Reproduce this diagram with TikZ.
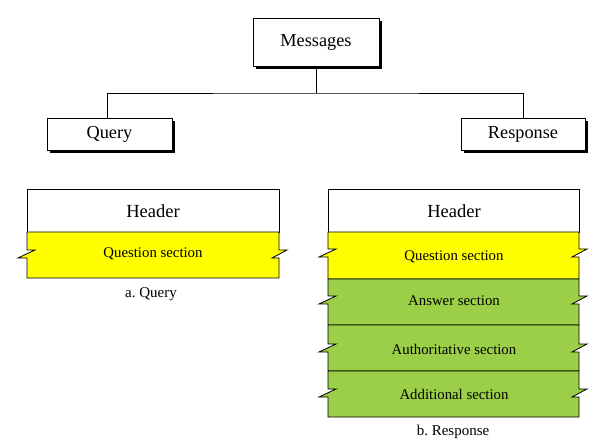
\documentclass[tikz,border=0pt]{standalone}
\usepackage{fontspec}
\setmainfont{Liberation Serif}
\usetikzlibrary{shadows}
\definecolor{secyellow}{RGB}{255,255,0}
\definecolor{secgreen}{RGB}{155,207,72}
\newcommand{\dnssec}[6]{%
  \filldraw[fill=#6,draw=black,line width=0.8pt,line join=miter]
    (#1,#3) -- (#2,#3) -- (#2,#5-4) -- (#2+8,#5-4) -- (#2-7,#5+4) -- (#2,#5+4)
    -- (#2,#4) -- (#1,#4) -- (#1,#5+4) -- (#1-9,#5+4) -- (#1+8,#5-4) -- (#1,#5-4) -- cycle;}
\begin{document}
\begin{tikzpicture}[x=1pt,y=-1pt,
  topbox/.style={draw=black,fill=white,line width=0.8pt,
    drop shadow={shadow xshift=3pt,shadow yshift=-3pt,opacity=1,fill=black},
    inner sep=0pt,font=\fontsize{18.3}{20}\selectfont},
  hdr/.style={font=\fontsize{18.5}{20}\selectfont},
  sec/.style={font=\fontsize{14.8}{16}\selectfont},
  captext/.style={font=\fontsize{15}{16}\selectfont},
  conn/.style={draw=black,line width=0.8pt}]
\useasboundingbox (0,0) rectangle (610,443);

\node[topbox,minimum width=126pt,minimum height=48pt] (msg) at (316,42) {Messages};
\node[topbox,minimum width=125pt,minimum height=32pt] (query) at (109.5,134) {Query};
\node[topbox,minimum width=124pt,minimum height=32pt] (resp) at (523,134) {Response};
\coordinate (j) at (316,93);
\draw[conn] (msg.south) -- (j);
\draw[conn] ([xshift=-2pt]query.north) |- (j) -| (resp.north);

% Query message
\filldraw[fill=white,draw=black,line width=0.8pt] (27,189) rectangle (279,232);
\dnssec{27}{279}{232}{278}{254}{secyellow}
\node[hdr] (qhdr) at (153,211) {Header};
\node[sec] (qq) at (153,254) {Question section};
\node[captext] (qcap) at (151,294) {a.\ Query};

% Response message
\filldraw[fill=white,draw=black,line width=0.8pt] (328,189) rectangle (579,232);
\dnssec{328}{579}{232}{279}{253}{secyellow}
\dnssec{328}{579}{279}{325}{300}{secgreen}
\dnssec{328}{579}{325}{371}{348}{secgreen}
\dnssec{328}{579}{371}{417}{393}{secgreen}
\node[hdr] (rhdr) at (454,211) {Header};
\node[sec] (rq) at (454,257) {Question section};
\node[sec] (ra) at (454,301) {Answer section};
\node[sec] (rau) at (454,349) {Authoritative section};
\node[sec] (rad) at (454,394) {Additional section};
\node[captext] (rcap) at (453,432) {b.\ Response};
\end{tikzpicture}
\end{document}
